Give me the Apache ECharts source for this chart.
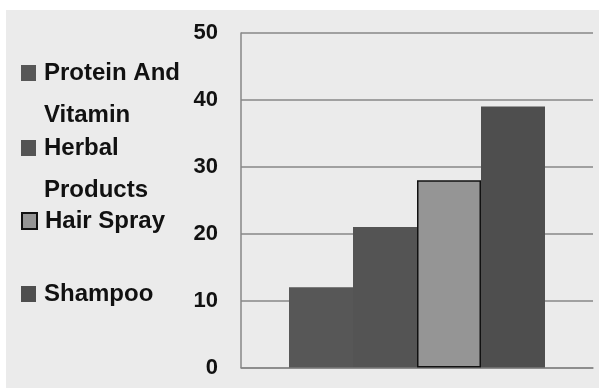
<!DOCTYPE html>
<html>
<head>
<meta charset="utf-8">
<script src="https://cdn.jsdelivr.net/npm/echarts@6/dist/echarts.min.js"></script>
<style>
  html, body { margin: 0; padding: 0; background: #ffffff; }
  #chart { position: absolute; left: 6px; top: 10px; width: 593px; height: 378px; }
</style>
</head>
<body>
<div id="chart"></div>
<script>
// data
const categories = [''];
const seriesNames = ['Protein And\nVitamin', 'Herbal\nProducts', 'Hair Spray', 'Shampoo'];
const seriesValues = [12, 21, 28, 39];
const yTicks = [0, 10, 20, 30, 40, 50];

const colors = ['#575757', '#545454', '#959595', '#4e4e4e'];
const font = "'Liberation Sans', Arial, sans-serif";
// icon centre (y) of each legend entry, chart coords
const legendIconY = [63, 138, 211, 284];

let myChart = echarts.init(document.getElementById('chart'));

const legends = seriesNames.map(function (name, i) {
  const twoLines = name.indexOf('\n') >= 0;
  return {
    data: [name],
    orient: 'vertical',
    left: 15,
    top: twoLines ? legendIconY[i] - 63 : legendIconY[i] - 21,
    padding: 0,
    icon: 'rect',
    itemWidth: 15,
    itemHeight: 16,
    itemGap: 0,
    selectedMode: false,
    // blank first line so the icon sits next to the first text line
    formatter: function (n) {
      return n.indexOf('\n') >= 0 ? ' \n' + n : n;
    },
    textStyle: {
      fontFamily: font,
      fontWeight: 'bold',
      fontSize: 24,
      color: '#111',
      lineHeight: 42,
      padding: [0, 0, 0, 3]
    }
  };
});

const option = {
  backgroundColor: '#ebebeb',
  animation: false,
  legend: legends,
  grid: { left: 235, right: 6, top: 23, bottom: 20.5 },
  xAxis: {
    type: 'category',
    data: categories,
    axisLine: { show: true, lineStyle: { color: '#878787', width: 1.5 } },
    axisTick: { show: false },
    axisLabel: { show: false }
  },
  yAxis: {
    type: 'value',
    min: yTicks[0],
    max: yTicks[yTicks.length - 1],
    interval: 10,
    axisLine: { show: true, lineStyle: { color: '#878787', width: 1.5 } },
    axisTick: { show: false },
    axisLabel: {
      margin: 23,
      fontFamily: font,
      fontWeight: 'bold',
      fontSize: 22,
      color: '#111'
    },
    splitLine: { lineStyle: { color: '#878787', width: 1.5 } }
  },
  series: seriesNames.map(function (name, i) {
    return {
      name: name,
      type: 'bar',
      barWidth: 64,
      barGap: '0%',
      data: [seriesValues[i]],
      itemStyle: i === 2
        ? { color: colors[i], borderColor: '#111', borderWidth: 1.5 }
        : { color: colors[i] }
    };
  })
};

myChart.setOption(option);
</script>
</body>
</html>
